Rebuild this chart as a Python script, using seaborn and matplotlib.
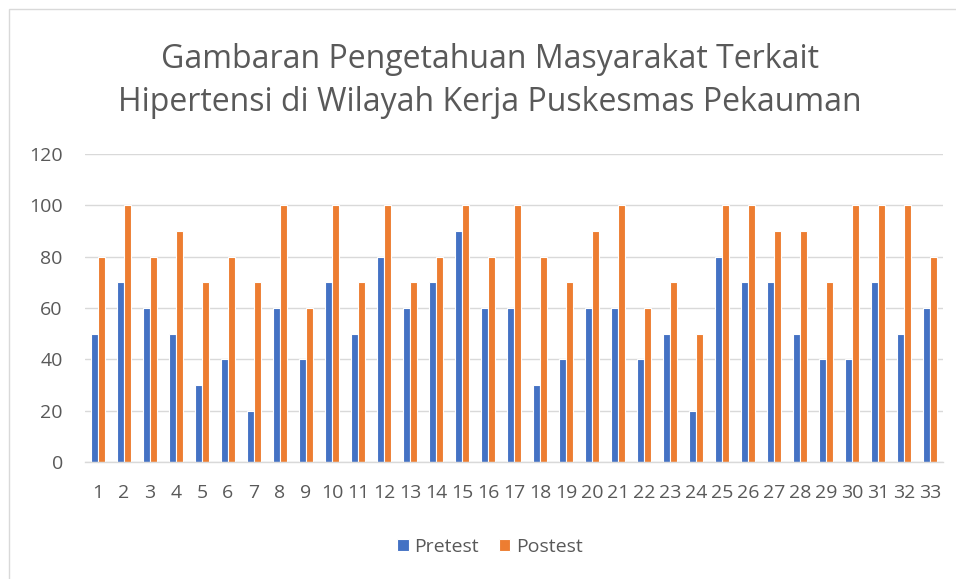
import matplotlib
matplotlib.use("Agg")
import matplotlib.pyplot as plt
import seaborn as sns
import pandas as pd
from matplotlib.patches import Rectangle

categories = [str(i) for i in range(1, 34)]
pretest = [50, 70, 60, 50, 30, 40, 20, 60, 40, 70, 50, 80, 60, 70, 90, 60, 60,
           30, 40, 60, 60, 40, 50, 20, 80, 70, 70, 50, 40, 40, 70, 50, 60]
postest = [80, 100, 80, 90, 70, 80, 70, 100, 60, 100, 70, 100, 70, 80, 100, 80, 100,
           80, 70, 90, 100, 60, 70, 50, 100, 100, 90, 90, 70, 100, 100, 100, 80]
series_names = ["Pretest", "Postest"]
title = "Gambaran Pengetahuan Masyarakat Terkait\nHipertensi di Wilayah Kerja Puskesmas Pekauman"

df = pd.DataFrame({
    "cat": categories * 2,
    "val": pretest + postest,
    "series": [series_names[0]] * 33 + [series_names[1]] * 33,
})

sns.set_theme(style="white")
plt.rcParams["font.family"] = ["Open Sans", "DejaVu Sans"]

fig = plt.figure(figsize=(9.56, 5.79), dpi=100)
ax = fig.add_axes([85 / 956, 1 - 462 / 579, (943 - 85) / 956, (462 - 154) / 579])

sns.barplot(data=df, x="cat", y="val", hue="series", order=categories,
            palette=["#4472C4", "#ED7D31"], width=0.52, ax=ax,
            edgecolor="white", linewidth=0.8, saturation=1)

ax.set_ylim(0, 120)
ax.set_xlim(-0.5, 32.5)
ax.set_yticks(range(0, 121, 20))
ax.yaxis.grid(True, color="#D9D9D9", linewidth=1)
ax.set_axisbelow(True)
for s in ["top", "right", "left"]:
    ax.spines[s].set_visible(False)
ax.spines["bottom"].set_color("#D9D9D9")
ax.spines["bottom"].set_linewidth(1)
ax.tick_params(axis="both", length=0, labelsize=14, colors="#595959")
ax.tick_params(axis="x", pad=16)
ax.tick_params(axis="y", pad=16)
ax.set_xlabel("")
ax.set_ylabel("")

leg = ax.legend(loc="center", bbox_to_anchor=(490 / 956, 1 - 547 / 579),
                bbox_transform=fig.transFigure, ncol=2, frameon=False,
                fontsize=14, handlelength=0.6, handleheight=0.6,
                handletextpad=0.3, columnspacing=1.0)
for t in leg.get_texts():
    t.set_color("#595959")

fig.text(490 / 956, 1 - 81 / 579, title, ha="center", va="center",
         fontsize=23, color="#595959", linespacing=1.4)

fig.patches.append(Rectangle((9 / 956, -0.1), 1.2, 1 - 9 / 579 + 0.1,
                             transform=fig.transFigure, fill=False,
                             edgecolor="#D9D9D9", linewidth=1))

fig.savefig("out.png", dpi=100)
